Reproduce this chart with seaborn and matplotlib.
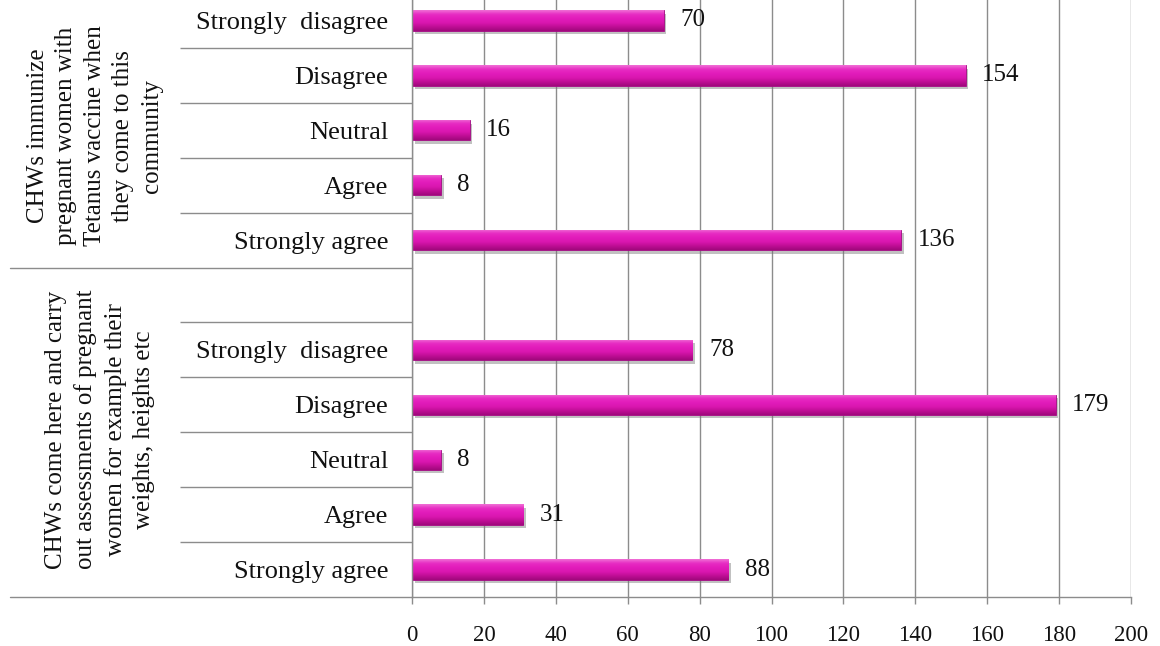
import numpy as np
import pandas as pd
import matplotlib
matplotlib.use("Agg")
import matplotlib.pyplot as plt
import matplotlib.patheffects as pe
from matplotlib.colors import LinearSegmentedColormap
import seaborn as sns

# ---- data -------------------------------------------------------------
responses = ["Strongly  disagree", "Disagree", "Neutral", "Agree", "Strongly agree"]
tetanus_label = ("CHWs immunize\npregnant women with\nTetanus vaccine when\n"
                 "they come to this\ncommunity")
assessment_label = ("CHWs come here and carry\nout assessments of pregnant\n"
                    "women for example their\nweights, heights etc")
tetanus_values = [70, 154, 16, 8, 136]
assessment_values = [78, 179, 8, 31, 88]
x_ticks = [0, 20, 40, 60, 80, 100, 120, 140, 160, 180, 200]

# ---- build table ------------------------------------------------------
t_keys = [f"T{i}" for i in range(len(responses))]
a_keys = [f"A{i}" for i in range(len(responses))]
order = t_keys + ["gap"] + a_keys
df = pd.DataFrame({
    "key": t_keys + a_keys,
    "value": tetanus_values + assessment_values,
})
tick_labels = responses + [""] + responses

sns.set_theme(style="white")
plt.rcParams["font.family"] = ["Liberation Serif", "DejaVu Serif"]

fig = plt.figure(figsize=(11.6, 6.46), dpi=100)
W, H = 1160, 646
ax = fig.add_axes([412 / W, 49 / H, 719 / W, 604 / H])

sns.barplot(data=df, x="value", y="key", order=order, orient="h",
            width=0.37, color="#E01AB8", saturation=1, ax=ax)

ax.set_xlim(0, 200)
ylim = ax.get_ylim()

# cylinder-like gradient on each bar, clipped to the bar patch
cmap = LinearSegmentedColormap.from_list(
    "cyl", ["#F070D6", "#E72CC3", "#E21CBB", "#DA17B0", "#C00E96", "#A0087C"])
grad = np.linspace(0, 1, 64).reshape(-1, 1)
gray = "#8c8c8c"
for p in ax.patches:
    x0, y0 = p.get_x(), p.get_y()
    w, h = p.get_width(), p.get_height()
    if not np.isfinite(w) or w == 0:
        continue
    p.set_edgecolor("#A00A80")
    p.set_linewidth(0.6)
    p.set_path_effects([pe.SimplePatchShadow(offset=(2, -2.5), shadow_rgbFace="#777777", alpha=0.45),
                        pe.Normal()])
    im = ax.imshow(grad, cmap=cmap, aspect="auto", origin="upper",
                   extent=(x0, x0 + w, y0 + h, y0), zorder=p.get_zorder() + 0.1,
                   interpolation="bicubic")
    im.set_clip_path(p)

ax.set_xlim(0, 200)
ax.set_ylim(ylim)

# value labels
for c in ax.containers:
    ax.bar_label(c, padding=12, fontsize=18, color="#111111")

# axes styling
ax.set_xlabel("")
ax.set_ylabel("")
ax.set_xticks(x_ticks)
ax.set_xticklabels([str(v) for v in x_ticks], fontsize=16.5)
ax.tick_params(axis="x", length=5, color=gray, width=1, pad=15, bottom=True, direction="out")
ax.set_yticks(range(len(order)))
ax.set_yticklabels(tick_labels, fontsize=19)
ax.tick_params(axis="y", which="major", length=0, pad=17)

# separators between categories (minor ticks reaching into the label area)
bounds = [i + 0.5 for i in range(len(order) - 1) if i not in (4,)]
ax.set_yticks(bounds, minor=True)
ax.tick_params(axis="y", which="minor", length=232 * 0.72, color=gray, width=1, left=True)

# group separators
trans = ax.get_yaxis_transform()
for yb in (4.5, len(order) - 0.5):
    ax.plot([-402 / 719, 0], [yb, yb], transform=trans, color=gray, lw=1, clip_on=False)

ax.grid(axis="x", color=gray, lw=1)
ax.grid(axis="y", visible=False)
ax.set_axisbelow(True)
for s in ["top", "right"]:
    ax.spines[s].set_visible(False)
for s in ["left", "bottom"]:
    ax.spines[s].set_color(gray)
    ax.spines[s].set_linewidth(1)

# group labels
ax.text(-0.441, 2.1, tetanus_label, transform=trans, rotation=90, ha="center", va="center",
        multialignment="center", fontsize=18, linespacing=1.38, color="#111111")
ax.text(-0.434, 7.45, assessment_label, transform=trans, rotation=90, ha="center", va="center",
        multialignment="center", fontsize=18, linespacing=1.38, color="#111111")

for t in ax.get_yticklabels() + ax.get_xticklabels():
    t.set_color("#111111")

fig.savefig("out.png", dpi=100, facecolor="white")
